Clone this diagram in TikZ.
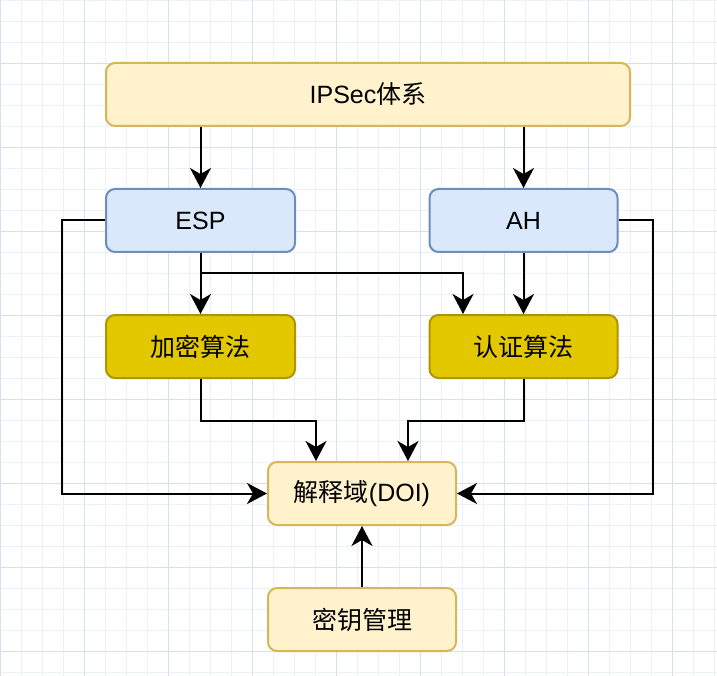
\documentclass[tikz,border=0pt]{standalone}
\usepackage{fontspec}
\setmainfont{Liberation Sans}
\newfontfamily\cjk{Noto Sans CJK SC}
\usetikzlibrary{arrows.meta}

\definecolor{gridminor}{HTML}{EBF1FA}
\definecolor{gridmajor}{HTML}{D3E0F3}
\definecolor{paleyellow}{HTML}{FFF2CC}
\definecolor{paleyellowline}{HTML}{D6B656}
\definecolor{paleblue}{HTML}{DAE8FC}
\definecolor{paleblueline}{HTML}{6C8EBF}
\definecolor{gold}{HTML}{E3C800}
\definecolor{goldline}{HTML}{B09500}

\tikzset{
    box/.style={rounded corners=9pt, line width=2pt, minimum height=63pt,
        inner sep=0pt, font=\fontsize{25}{29}\selectfont},
    yellowbox/.style={box, fill=paleyellow, draw=paleyellowline},
    bluebox/.style={box, fill=paleblue, draw=paleblueline},
    goldbox/.style={box, fill=gold, draw=goldline},
    arr/.style={line width=2pt, -{Stealth[length=20pt, width=21pt, inset=6pt]}}
}

\begin{document}
\begin{tikzpicture}[x=1pt, y=-1pt]

\useasboundingbox (0, 0) rectangle (717, 676);
\fill[white] (0, 0) rectangle (717, 676);

% Background grid
\foreach \i in {0,...,34} {
    \draw[gridminor, line width=0.8pt] ({21*\i}, 0) -- ({21*\i}, 676);
}
\foreach \j in {0,...,32} {
    \draw[gridminor, line width=0.8pt] (0, {21*\j}) -- (717, {21*\j});
}
\foreach \i in {0,...,8} {
    \draw[gridmajor, line width=0.8pt] ({84*\i}, 0) -- ({84*\i}, 676);
}
\foreach \j in {0,...,7} {
    \draw[gridmajor, line width=0.8pt] (0, {63 + 84*\j}) -- (717, {63 + 84*\j});
}

% Boxes
\node[yellowbox, minimum width=524pt] (ipsec) at (368, 94.5) {IPSec{\cjk 体系}};
\node[bluebox, minimum width=189pt] (esp) at (200.5, 220.5) {ESP};
\node[bluebox, minimum width=188pt] (ah) at (523.5, 220.5) {AH};
\node[goldbox, minimum width=189pt] (encrypt) at (200.5, 346.5) {\cjk 加密算法};
\node[goldbox, minimum width=188pt] (auth) at (523.5, 346.5) {\cjk 认证算法};
\node[yellowbox, minimum width=188pt] (doi) at (362, 493.5) {{\cjk 解释域}(DOI)};
\node[yellowbox, minimum width=188pt] (keymgmt) at (362, 619.5) {\cjk 密钥管理};

% Bend points
\coordinate (espsplit) at (200.5, 273);
\coordinate (authin) at (463, 273);

% Connectors
\draw[arr] (esp.north |- ipsec.south) -- (esp.north);
\draw[arr] (ah.north |- ipsec.south) -- (ah.north);
\draw[arr] (esp.south) -- (encrypt.north);
\draw[arr] (espsplit) -- (authin) -- (authin |- auth.north);
\draw[arr] (ah.south) -- (auth.north);
\draw[arr] (esp.west) -- ++(-43, 0) |- (doi.west);
\draw[arr] (ah.east) -- ++(34, 0) |- (doi.east);
\draw[arr] (encrypt.south) -- ++(0, 42) -| ([xshift=-46pt]doi.north);
\draw[arr] (auth.south) -- ++(0, 42) -| ([xshift=46pt]doi.north);
\draw[arr] (keymgmt.north) -- (doi.south);

\end{tikzpicture}
\end{document}
